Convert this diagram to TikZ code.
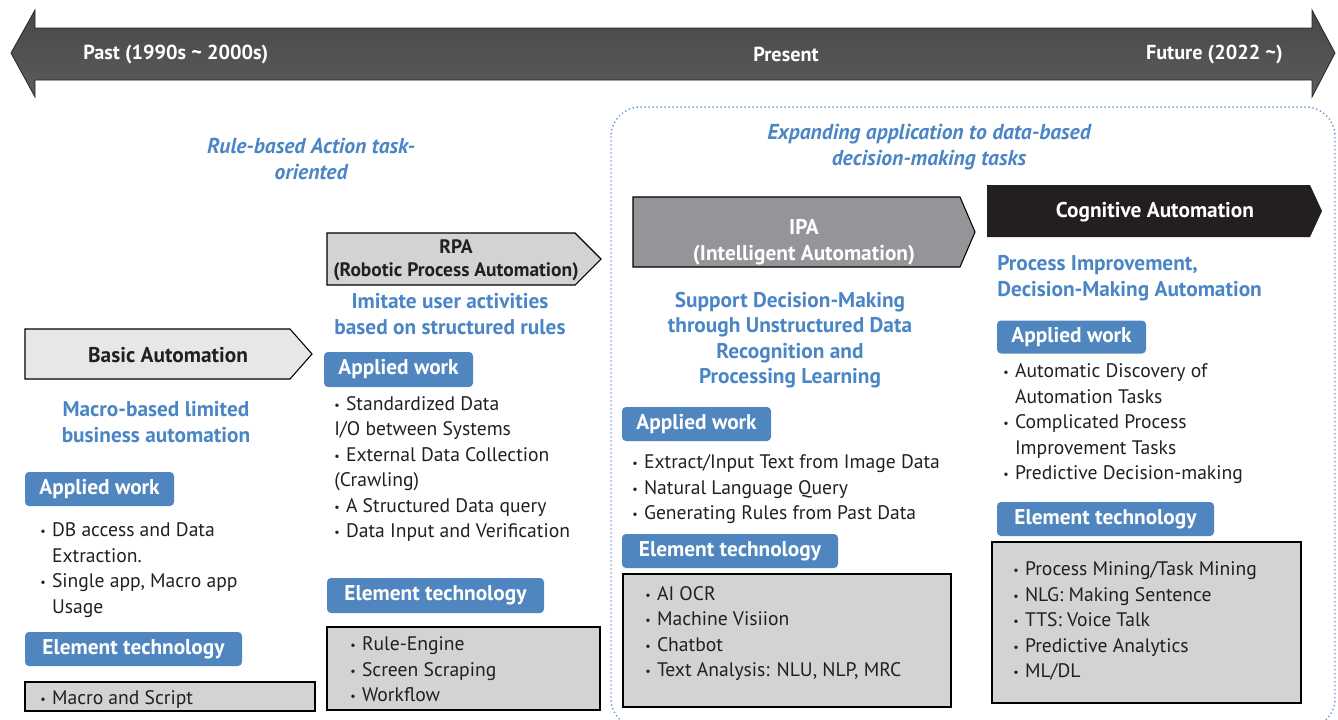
\documentclass[tikz,border=0pt]{standalone}
\usepackage{fontspec}
\setmainfont{PT Sans}
\definecolor{bluetxt}{HTML}{4A86C5}
\definecolor{bluebox}{HTML}{4F86C0}
\definecolor{graybox}{HTML}{D1D3D4}
\definecolor{lightbox}{HTML}{E6E7E8}
\definecolor{ipagray}{HTML}{939598}
\definecolor{cogblack}{HTML}{231F20}
\definecolor{dotblue}{HTML}{5B93CF}
\definecolor{txt}{HTML}{231F20}
\newcommand{\bl}{\makebox[0.6em][l]{\raisebox{0.1ex}{\small•}}}
\newcommand{\ind}{\hspace{0.6em}}
\begin{document}
\begin{tikzpicture}[x=0.75pt,y=-0.75pt,
  fnt/.style={font=\fontsize{14.7}{19.1}\selectfont},
  listtxt/.style={fnt, text=txt, align=left, anchor=west, inner sep=0pt},
  bluesub/.style={font=\bfseries\fontsize{16}{19.1}\selectfont, text=bluetxt, inner sep=0pt},
  blueital/.style={font=\bfseries\itshape\fontsize{16.2}{19.4}\selectfont, text=bluetxt, inner sep=0pt, align=center},
  label/.style={fill=bluebox, rounded corners=3pt, text=white, font=\bfseries\fontsize{16}{18}\selectfont, inner sep=0pt},
  gbox/.style={draw=black, fill=graybox, line width=0.8pt, inner sep=0pt},
  head/.style={font=\bfseries\fontsize{16}{18.5}\selectfont, align=center, inner sep=0pt},
  timetxt/.style={font=\bfseries\fontsize{15.2}{17}\selectfont, text=white, inner sep=0pt}
]
\useasboundingbox (0,0) rectangle (1338,719);
\clip (0,0) rectangle (1338,719);

% timeline arrow
\path[draw=black!85, line width=0.6pt, top color=black!72, middle color=black!40, bottom color=black!64]
  (11,53) -- (35,10) -- (35,28) -- (1312,28) -- (1312,10) -- (1335,53) -- (1312,97) -- (1312,80) -- (35,80) -- (35,97) -- cycle;
\node[timetxt, anchor=west] (past) at (83,54) {Past (1990s \textasciitilde{} 2000s)};
\node[timetxt] (present) at (786,54) {Present};
\node[timetxt, anchor=east] (future) at (1283,54) {Future (2022 \textasciitilde)};

% dotted region
\draw[dotblue, dotted, line width=1pt, rounded corners=22pt] (611,107) rectangle (1335,728);

% italic notes
\node[blueital] (rule) at (311,159) {Rule-based Action task-\\oriented};
\node[blueital] (expand) at (929,147) {Expanding application to data-based\\decision-making tasks};

% headers
\draw[black, line width=0.8pt, fill=lightbox] (25,329) -- (290,329) -- (312,354) -- (290,379) -- (25,379) -- cycle;
\node[head, text=txt] (basic) at (168,355) {Basic Automation};
\draw[black, line width=0.8pt, fill=graybox] (327,233) -- (575,233) -- (601,259) -- (575,285) -- (327,285) -- cycle;
\node[head, text=txt, font=\bfseries\fontsize{14.6}{17.5}\selectfont] (rpa) at (456,260) {RPA\\(Robotic Process Automation)};
\draw[black, line width=0.8pt, fill=ipagray] (633,197) -- (960,197) -- (975,232) -- (960,267) -- (633,267) -- cycle;
\node[head, text=white, font=\bfseries\fontsize{16}{19.5}\selectfont] (ipa) at (804,242) {IPA\\(Intelligent Automation)};
\fill[cogblack] (987,185) -- (1310,185) -- (1322,211) -- (1310,237) -- (987,237) -- cycle;
\node[head, text=white] (cog) at (1155,212) {Cognitive Automation};

% blue subtitles
\node[bluesub, align=center] (sub1) at (156,422) {Macro-based limited\\business automation};
\node[bluesub, align=center] (sub2) at (450,314) {Imitate user activities\\based on structured rules};
\node[bluesub, align=center] (sub3) at (790,340) {Support Decision-Making\\through Unstructured Data\\Recognition and\\Processing Learning};
\node[bluesub, align=left, anchor=west] (sub4) at (997,278) {Process Improvement,\\Decision-Making Automation};

% labels
\node[label, minimum width=149*0.75pt, minimum height=34*0.75pt] (aw1) at (99.5,489) {Applied work};
\node[label, minimum width=217*0.75pt, minimum height=34*0.75pt] (et1) at (133.5,649) {Element technology};
\node[label, minimum width=149*0.75pt, minimum height=35*0.75pt] (aw2) at (398.5,369.5) {Applied work};
\node[label, minimum width=217*0.75pt, minimum height=35*0.75pt] (et2) at (435.5,595.5) {Element technology};
\node[label, minimum width=149*0.75pt, minimum height=34*0.75pt] (aw3) at (696.5,424) {Applied work};
\node[label, minimum width=216*0.75pt, minimum height=34*0.75pt] (et3) at (730,551) {Element technology};
\node[label, minimum width=149*0.75pt, minimum height=33*0.75pt] (aw4) at (1071.5,337) {Applied work};
\node[label, minimum width=217*0.75pt, minimum height=34*0.75pt] (et4) at (1105.5,519) {Element technology};

% applied work lists
\node[listtxt] (l1) at (40,570) {\bl DB access and Data\\\ind Extraction.\\\bl Single app, Macro app\\\ind Usage};
\node[listtxt] (l2) at (334,469) {\bl Standardized Data\\I/O between Systems\\\bl External Data Collection\\(Crawling)\\\bl A Structured Data query\\\bl Data Input and Verification};
\node[listtxt] (l3) at (632,489.5) {\bl Extract/Input Text from Image Data\\\bl Natural Language Query\\\bl Generating Rules from Past Data};
\node[listtxt] (l4) at (1003,424) {\bl Automatic Discovery of\\\ind Automation Tasks\\\bl Complicated Process\\\ind Improvement Tasks\\\bl Predictive Decision-making};

% element technology boxes
\node[gbox, minimum width=290*0.75pt, minimum height=29*0.75pt] (g1) at (170,696.5) {};
\node[listtxt] (t1) at (40,699) {\bl Macro and Script};
\node[gbox, minimum width=273*0.75pt, minimum height=83*0.75pt] (g2) at (463.5,668.5) {};
\node[listtxt] (t2) at (350,669.5) {\bl Rule-Engine\\\bl Screen Scraping\\\bl Workflow};
\node[gbox, minimum width=328*0.75pt, minimum height=133*0.75pt] (g3) at (787,640.5) {};
\node[listtxt] (t3) at (645,633.5) {\bl AI OCR\\\bl Machine Visiion\\\bl Chatbot\\\bl Text Analysis: NLU, NLP, MRC};
\node[gbox, minimum width=309*0.75pt, minimum height=161*0.75pt] (g4) at (1146.5,622.5) {};
\node[listtxt] (t4) at (1013,621) {\bl Process Mining/Task Mining\\\bl NLG: Making Sentence\\\bl TTS: Voice Talk\\\bl Predictive Analytics\\\bl ML/DL};
\end{tikzpicture}
\end{document}
